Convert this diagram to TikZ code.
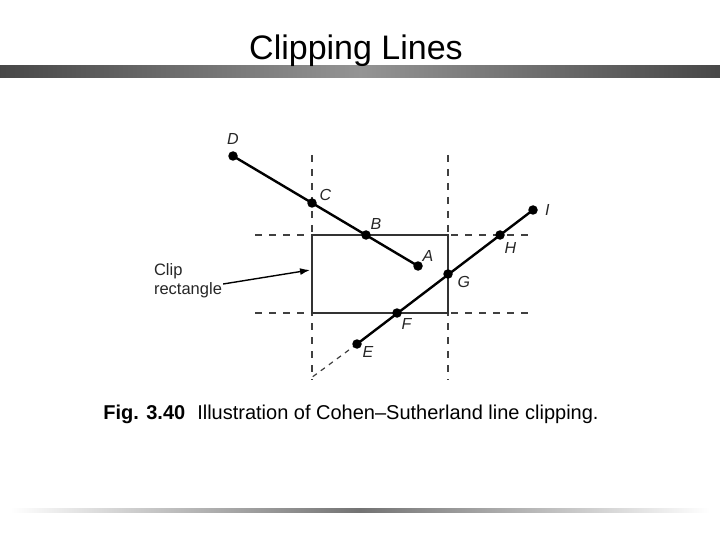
\documentclass[tikz,border=0pt]{standalone}
\usepackage{fontspec}
\setmainfont{Liberation Sans}
\usetikzlibrary{positioning, calc, arrows.meta}

\tikzset{
    seg/.style={line width=2.4pt, black},
    guide/.style={line width=1.8pt, dash pattern=on 7pt off 7pt, black!75},
    cliprect/.style={line width=2pt, black!80},
    lbl/.style={font=\fontsize{16}{18}\selectfont\itshape, inner sep=1pt, text=black!85},
    dot/.style={circle, fill=black, inner sep=0pt, minimum size=9.5pt}
}

\begin{document}
\begin{tikzpicture}[x=1pt, y=-1pt]
    \useasboundingbox (0,0) rectangle (720,540);

    % --- BARS AND TITLE ---
    \shade[left color=black!72, right color=black!72, middle color=black!42] (0,66) rectangle (720,78);
    \shade[left color=white, right color=white, middle color=black!55] (10,508) rectangle (710,512);
    \node (title) at (356,51) {\fontsize{34}{38}\selectfont Clipping Lines};

    % --- WINDOW EDGES ---
    \coordinate (tl) at (312,235);
    \coordinate (br) at (448,313);
    % extended edges (dashed)
    \draw[guide] (312,155) -- (312,380);
    \draw[guide] (448,155) -- (448,380);
    \draw[guide] (255,235) -- (530,235);
    \draw[guide] (255,313) -- (530,313);
    % clip rectangle
    \draw[cliprect, fill=white] (tl) rectangle (br);

    % --- LINE DA ---
    \coordinate (D) at (233,156);
    \coordinate (C) at (312,203);
    \coordinate (B) at (366,235);
    \coordinate (A) at (418,266);
    \draw[seg] (D) -- (A);

    % --- LINE EI ---
    \coordinate (E) at (357,344);
    \coordinate (F) at (397,313);
    \coordinate (G) at (448,274);
    \coordinate (H) at (500,235);
    \coordinate (I) at (533,210);
    \coordinate (Eend) at (311,378);
    \draw[guide, line width=1.2pt, dash pattern=on 5pt off 5pt] (E) -- (Eend);
    \draw[seg] (E) -- (I);

    % --- POINTS ---
    \foreach \p in {A,B,C,D,E,F,G,H,I}
        \node[dot] (dot\p) at (\p) {};

    % --- LABELS ---
    \node[lbl, above=5pt of dotD] (lD) {D};
    \node[lbl, above right=-2pt and 3pt of dotC] (lC) {C};
    \node[lbl, above right=1pt and 0pt of dotB] (lB) {B};
    \node[lbl, above right=0pt and 0pt of dotA] (lA) {A};
    \node[lbl, right=6pt of dotI] (lI) {I};
    \node[lbl, below right=3pt and 0pt of dotH] (lH) {H};
    \node[lbl, below right=-2pt and 5pt of dotG] (lG) {G};
    \node[lbl, below right=1pt and 0pt of dotF] (lF) {F};
    \node[lbl, below right=-2pt and 1pt of dotE] (lE) {E};

    % --- CLIP RECTANGLE CALLOUT ---
    \node[align=left, inner sep=1pt, text=black!85, font=\fontsize{16.5}{19}\selectfont] (cliplbl) at (188,281) {Clip\\rectangle};
    \coordinate (cliptip) at (310,270);
    \draw[line width=1.4pt, -{Latex[length=10pt, width=7pt]}] ($(cliplbl.east)+(0,3)$) -- (cliptip);

    % --- CAPTION ---
    \node (caption) at (351,414) {\fontsize{20}{24}\selectfont\textbf{Fig. 3.40}\hspace{0.6em}Illustration of Cohen--Sutherland line clipping.};

\end{tikzpicture}
\end{document}
